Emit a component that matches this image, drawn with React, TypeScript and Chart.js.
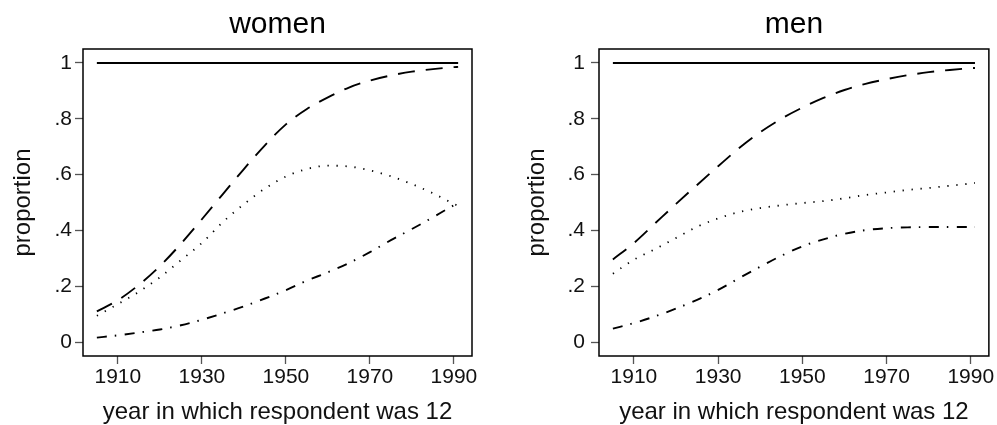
import React, { useEffect, useRef } from "react";
import { Chart, registerables } from "chart.js";

Chart.register(...registerables);

const years = [1905, 1910, 1915, 1920, 1925, 1930, 1935, 1940, 1945, 1950, 1955, 1960, 1965, 1970, 1975, 1980, 1985, 1990, 1991];

const womenTotal = [1, 1, 1, 1, 1, 1, 1, 1, 1, 1, 1, 1, 1, 1, 1, 1, 1, 1, 1];
const womenDashed = [0.11, 0.15, 0.205, 0.272, 0.352, 0.44, 0.53, 0.62, 0.705, 0.78, 0.835, 0.877, 0.912, 0.937, 0.955, 0.969, 0.978, 0.985, 0.986];
const womenDotted = [0.094, 0.136, 0.18, 0.232, 0.293, 0.355, 0.43, 0.494, 0.55, 0.593, 0.62, 0.632, 0.629, 0.615, 0.594, 0.566, 0.533, 0.495, 0.488];
const womenDashDot = [0.016, 0.024, 0.034, 0.045, 0.06, 0.08, 0.103, 0.128, 0.156, 0.186, 0.22, 0.25, 0.283, 0.322, 0.365, 0.405, 0.447, 0.49, 0.497];

const menTotal = [1, 1, 1, 1, 1, 1, 1, 1, 1, 1, 1, 1, 1, 1, 1, 1, 1, 1, 1];
const menDashed = [0.296, 0.355, 0.425, 0.495, 0.563, 0.63, 0.695, 0.752, 0.8, 0.84, 0.875, 0.903, 0.925, 0.942, 0.956, 0.967, 0.975, 0.981, 0.982];
const menDotted = [0.245, 0.295, 0.333, 0.373, 0.413, 0.443, 0.466, 0.48, 0.49, 0.498, 0.505, 0.515, 0.527, 0.536, 0.545, 0.552, 0.56, 0.568, 0.57];
const menDashDot = [0.048, 0.068, 0.092, 0.12, 0.151, 0.187, 0.229, 0.27, 0.309, 0.343, 0.368, 0.388, 0.401, 0.408, 0.411, 0.412, 0.412, 0.412, 0.412];

const xTickValues = [1910, 1930, 1950, 1970, 1990];
const yTickValues = [0, 0.2, 0.4, 0.6, 0.8, 1];
const yTickLabels = ["0", ".2", ".4", ".6", ".8", "1"];

const xTitle = "year in which respondent was 12";
const yTitle = "proportion";

const FONT = '"Liberation Sans", Arial, Helvetica, sans-serif';

const panelFrame = {
  id: "panelFrame",
  afterDatasetsDraw(chart: any, _args: any, opts: any) {
    const { ctx, chartArea } = chart;
    const { left, top, right, bottom } = chartArea;
    ctx.save();
    ctx.strokeStyle = "#000";
    ctx.lineWidth = 1.5;
    ctx.strokeRect(left, top, right - left, bottom - top);
    ctx.font = `30px ${FONT}`;
    ctx.fillStyle = "#000";
    ctx.textAlign = "center";
    ctx.textBaseline = "alphabetic";
    ctx.fillText(opts.text, (left + right) / 2, opts.baseline);
    ctx.restore();
  },
};

type PanelProps = {
  title: string;
  total: number[];
  dashed: number[];
  dotted: number[];
  dashDot: number[];
  width: number;
  yAxisWidth: number;
  padRight: number;
  yTickPad: number;
  yTitlePad: number;
};

function Panel(p: PanelProps) {
  const ref = useRef<HTMLCanvasElement | null>(null);
  useEffect(() => {
    if (!ref.current) return;
    const mk = (arr: number[]) => years.map((x, i) => ({ x, y: arr[i] }));
    const common = {
      pointRadius: 0,
      borderColor: "#000",
      fill: false,
      cubicInterpolationMode: "monotone" as const,
      borderCapStyle: "butt" as const,
    };
    const chart = new Chart(ref.current, {
      type: "line",
      data: {
        datasets: [
          { ...common, label: "total", data: mk(p.total), borderWidth: 2 },
          { ...common, label: "dashed", data: mk(p.dashed), borderWidth: 1.9, borderDash: [17, 11] },
          { ...common, label: "dotted", data: mk(p.dotted), borderWidth: 1.8, borderDash: [1.3, 7.7] },
          { ...common, label: "dashdot", data: mk(p.dashDot), borderWidth: 1.9, borderDash: [10, 8, 1.5, 8.5] },
        ],
      },
      options: {
        animation: false,
        responsive: false,
        devicePixelRatio: 1,
        layout: { padding: { left: 0, right: p.padRight, top: 49, bottom: 0 } },
        plugins: {
          legend: { display: false },
          tooltip: { enabled: false },
          title: { display: false },
          panelFrame: { text: p.title, baseline: 33 },
        } as any,
        scales: {
          x: {
            type: "linear",
            min: 1901.7,
            max: 1994.3,
            afterBuildTicks: (s: any) => {
              s.ticks = xTickValues.map((v) => ({ value: v }));
            },
            afterFit: (s: any) => {
              s.height = 69;
            },
            grid: { drawOnChartArea: false, drawTicks: true, tickLength: 8, tickColor: "#555", tickWidth: 1.3 },
            border: { display: false },
            ticks: {
              autoSkip: false,
              maxRotation: 0,
              padding: 2.5,
              color: "#111",
              font: { family: FONT, size: 21, lineHeight: 1 },
              callback: (v: any) => String(v),
            },
            title: {
              display: true,
              text: xTitle,
              color: "#111",
              font: { family: FONT, size: 24, lineHeight: 1 },
              padding: { top: 0, bottom: 1 },
            },
          },
          y: {
            type: "linear",
            min: -0.05,
            max: 1.05,
            afterBuildTicks: (s: any) => {
              s.ticks = yTickValues.map((v) => ({ value: v }));
            },
            afterFit: (s: any) => {
              s.width = p.yAxisWidth;
            },
            grid: { drawOnChartArea: false, drawTicks: true, tickLength: 8, tickColor: "#555", tickWidth: 1.3 },
            border: { display: false },
            ticks: {
              padding: p.yTickPad,
              color: "#111",
              font: { family: FONT, size: 21, lineHeight: 1 },
              callback: (v: any) => {
                const i = yTickValues.findIndex((t) => Math.abs(t - Number(v)) < 1e-9);
                return i >= 0 ? yTickLabels[i] : "";
              },
            },
            title: {
              display: true,
              text: yTitle,
              color: "#111",
              font: { family: FONT, size: 24, lineHeight: 1 },
              padding: { top: p.yTitlePad, bottom: 0 },
            },
          },
        },
      },
      plugins: [panelFrame],
    });
    return () => chart.destroy();
  }, []);
  return (
    <div style={{ width: p.width, height: 425, position: "relative" }}>
      <canvas ref={ref} width={p.width} height={425} style={{ width: p.width, height: 425, display: "block" }} />
    </div>
  );
}

export default function App() {
  return (
    <div style={{ position: "absolute", left: 0, top: 0, width: 997, height: 425, display: "flex", background: "#fff" }}>
      <Panel
        title="women"
        total={womenTotal}
        dashed={womenDashed}
        dotted={womenDotted}
        dashDot={womenDashDot}
        width={500}
        yAxisWidth={83}
        padRight={28}
        yTickPad={3}
        yTitlePad={11}
      />
      <Panel
        title="men"
        total={menTotal}
        dashed={menDashed}
        dotted={menDotted}
        dashDot={menDashDot}
        width={497}
        yAxisWidth={99}
        padRight={8}
        yTickPad={6}
        yTitlePad={25}
      />
    </div>
  );
}
